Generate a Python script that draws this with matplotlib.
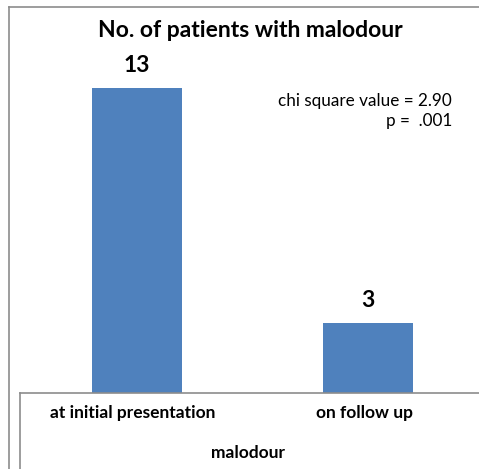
import matplotlib
matplotlib.use("Agg")
import matplotlib.pyplot as plt
from matplotlib.lines import Line2D

categories = ["at initial presentation", "on follow up"]
values = [13, 3]
title = "No. of patients with malodour"
xlabel = "malodour"
note_lines = ["chi square value = 2.90", "p =  .001"]

W, H = 479, 469
fig = plt.figure(figsize=(W/100, H/100), dpi=100)
plt.rcParams['font.family'] = ['Lato', 'DejaVu Sans']

def fx(px): return px / W
def fy(py): return 1 - py / H

ax = fig.add_axes([fx(21), fy(393), 1 - fx(21) + 0.01, fy(7) - fy(393)])
ax.bar(range(len(categories)), values, width=0.39, color="#4F81BD")
ax.set_xlim(-0.5, 1.5)
ax.set_ylim(0, 386/23.5)
for s in ax.spines.values():
    s.set_visible(False)
ax.set_xticks([]); ax.set_yticks([])
ax.patch.set_alpha(0)

for i, v in enumerate(values):
    ax.annotate(str(v), (i, v), xytext=(0, 11.5), textcoords="offset points",
                ha="center", va="baseline", fontsize=16.5, fontweight="bold")

# frame lines
gray = "#8c8c8c"
fig.add_artist(Line2D([fx(9), 1], [fy(7), fy(7)], color=gray, lw=1.2))
fig.add_artist(Line2D([fx(9), fx(9)], [fy(7), 0], color=gray, lw=1.2))
fig.add_artist(Line2D([fx(20), 1], [fy(393), fy(393)], color=gray, lw=1.2))
fig.add_artist(Line2D([fx(20), fx(20)], [fy(393), 0], color=gray, lw=1.2))

fig.text(fx(250), fy(30), title, ha="center", va="center", fontsize=16.5, fontweight="bold")
for i, c in enumerate(categories):
    xd = ax.transData.transform((i, 0))[0] - 4
    fig.text(fig.transFigure.inverted().transform((xd, 0))[0], fy(413), c,
             ha="center", va="center", fontsize=12.5, fontweight="bold")
fig.text(fx(248), fy(453), xlabel, ha="center", va="center", fontsize=12.5, fontweight="bold")
fig.text(fx(452), fy(101), note_lines[0], ha="right", va="center", fontsize=12.3)
fig.text(fx(452), fy(121), note_lines[1], ha="right", va="center", fontsize=12.3)

fig.savefig("out.png", dpi=100)
